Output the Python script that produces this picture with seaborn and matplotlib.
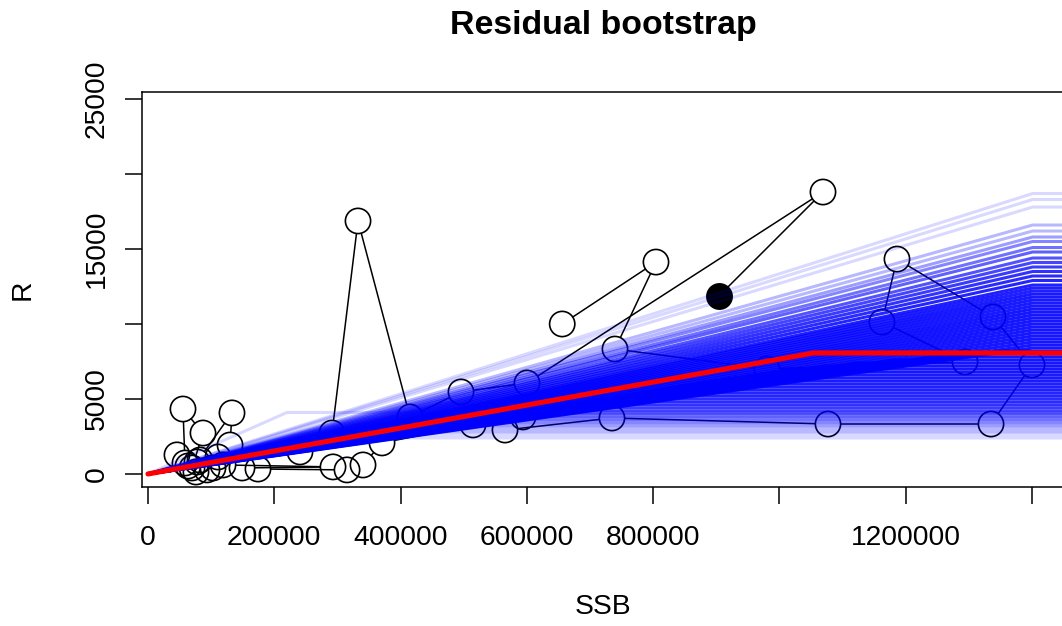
import numpy as np
import pandas as pd
import matplotlib
matplotlib.use("Agg")
from matplotlib import pyplot as plt
import seaborn as sns

# observed stock-recruitment pairs in year order (last year drawn filled)
ssb = [656000, 804500, 739600, 980300, 1293900, 1162400, 1186200, 1338200, 1400000,
       1335100, 1076900, 734800, 565400, 593900, 514700, 370600, 340500, 315200,
       174200, 148900, 293000, 118800, 129900, 133000, 77600, 102900, 93400, 69700,
       87100, 55400, 58600, 45900, 63300, 110900, 76000, 82400, 240700, 291400,
       332600, 414900, 495700, 600200, 1069000, 904300]
rec = [10000, 14130, 8330, 7000, 7470, 10130, 14330, 10470, 7270,
       3330, 3330, 3730, 2930, 3800, 3270, 2070, 600, 270,
       330, 400, 470, 600, 1930, 4070, 800, 400, 270, 400,
       2730, 4330, 730, 1270, 530, 1130, 130, 930, 1470, 2730,
       16870, 3800, 5470, 6070, 18800, 11870]

# hockey-stick fit to the observed data
fit_break = 1054000
fit_plateau = 8070

# residual bootstrap hockey sticks: breakpoint SSB, plateau R, replicates alike
boot_break = [1401000] * 37 + [
    1350000, 1300000, 1240000, 1180000, 1120000, 1070000, 1020000, 990000,
    960000, 930000, 900000, 870000, 840000, 810000, 790000, 760000, 740000,
    710000, 690000, 660000, 640000, 610000, 580000, 560000, 530000, 500000,
    470000, 440000, 410000, 370000, 220000]
boot_plateau = [
    18700, 18300, 17800, 16600, 16200, 15800, 15500, 15100, 14800, 14400,
    14100, 13800, 13500, 13200, 12900, 12600, 12400, 12200, 12000, 11800,
    11600, 11400, 11200, 11000, 10800, 10600, 10400, 10200, 10000, 9800,
    9600, 9400, 9200, 9000, 8800, 8600, 8400,
    8200, 8000, 7800, 7600, 7400, 7200, 7000, 6800, 6600, 6400, 6200, 6000,
    5800, 5600, 5400, 5200, 5000, 4800, 4600, 4400, 4200, 4000, 3800, 3600,
    3400, 3200, 3000, 2800, 2600, 2400, 4100]
boot_count = [
    1, 1, 1, 2, 2, 3, 4, 5, 6, 7, 8, 9, 10, 11, 12, 13, 13, 13, 14, 14,
    14, 14, 14, 15, 15, 15, 15, 15, 15, 15, 15, 15, 15, 15, 15, 15, 15,
    15, 15, 15, 15, 15, 15, 15, 15, 14, 14, 14, 13, 13, 13, 12, 12, 11, 11,
    10, 9, 8, 7, 6, 5, 4, 3, 2, 2, 1, 1, 1]

x_ticks = [0, 200000, 400000, 600000, 800000, 1000000, 1200000, 1400000]
x_labels = ["0", "200000", "400000", "600000", "800000", "", "1200000", ""]
y_ticks = [0, 5000, 10000, 15000, 20000, 25000]
y_labels = ["0", "5000", "", "15000", "", "25000"]

sns.set_theme(style="ticks", rc={"text.color": "black", "axes.labelcolor": "black",
                                 "xtick.color": "black", "ytick.color": "black",
                                 "axes.edgecolor": "black"})
plt.rcParams["font.family"] = ["Liberation Sans", "DejaVu Sans"]

W, H = 1062, 626
fig = plt.figure(figsize=(W / 100, H / 100), dpi=100)
ax = fig.add_axes([142 / W, 1 - 487 / H, 922 / W, 395 / H])
xlim = (-9500, 1450700)
ylim = (-870, 25470)
ax.set_xlim(xlim)
ax.set_ylim(ylim)

# observed points (hollow, last one filled)
sns.scatterplot(x=ssb[:-1], y=rec[:-1], s=330, marker="o", color="black",
                linewidth=1.2, zorder=2, ax=ax)
ax.collections[-1].set_facecolor("none")
ax.collections[-1].set_edgecolor("black")
sns.scatterplot(x=ssb[-1:], y=rec[-1:], s=330, marker="o", color="black",
                edgecolor="black", linewidth=1.2, zorder=2, ax=ax)

# bootstrap curves
rows = []
for i, (b, p, n) in enumerate(zip(boot_break, boot_plateau, boot_count)):
    for xx, yy in [(0, 0), (b, p), (xlim[1], p)]:
        rows.append(dict(rep=i, n=n, SSB=xx, R=yy))
boot = pd.DataFrame(rows)
for n, grp in boot.groupby("n"):
    sns.lineplot(data=grp, x="SSB", y="R", units="rep", estimator=None,
                 color="blue", alpha=1 - 0.85 ** n, lw=2.2, zorder=3, ax=ax)

# fitted curve
sns.lineplot(x=[0, fit_break, xlim[1]], y=[0, fit_plateau, fit_plateau],
             color="red", lw=3.7, zorder=4, ax=ax)

ax.set_xlim(xlim)
ax.set_ylim(ylim)

# connecting lines with gaps round the points (like type = "b")
gap = 13
pts = ax.transData.transform(np.column_stack([ssb, rec]))
inv = ax.transData.inverted()
for p0, p1 in zip(pts[:-1], pts[1:]):
    d = p1 - p0
    L = np.hypot(*d)
    if L <= 2 * gap:
        continue
    u = d / L
    seg = inv.transform(np.array([p0 + u * gap, p1 - u * gap]))
    ax.plot(seg[:, 0], seg[:, 1], color="black", lw=1.1, zorder=1)

ax.set_xticks(x_ticks)
ax.set_xticklabels(x_labels)
ax.set_yticks(y_ticks)
ax.set_yticklabels(y_labels, rotation=90, va="center")
ax.tick_params(axis="both", direction="out", length=12.2, width=1.1,
               labelsize=20.3, colors="black")
ax.tick_params(axis="x", pad=15.5)
ax.tick_params(axis="y", pad=11)
for sp in ax.spines.values():
    sp.set_visible(True)
    sp.set_color("black")
    sp.set_linewidth(1.1)

ax.set_xlabel("SSB", fontsize=20.3, color="black")
ax.set_ylabel("R", fontsize=20.3, color="black")
ax.xaxis.set_label_coords(0.5, (487 - 607) / 395)
ax.xaxis.label.set_va("center")
ax.yaxis.set_label_coords((23 - 142) / 922, 0.5)
ax.yaxis.label.set_va("center")
legend = ax.get_legend()
if legend is not None:
    legend.remove()

fig.text(603 / W, 1 - 34 / H, "Residual bootstrap", ha="center", va="baseline",
         fontsize=24.4, fontweight="bold", color="black")

fig.savefig("out.png", dpi=100, facecolor="white")
